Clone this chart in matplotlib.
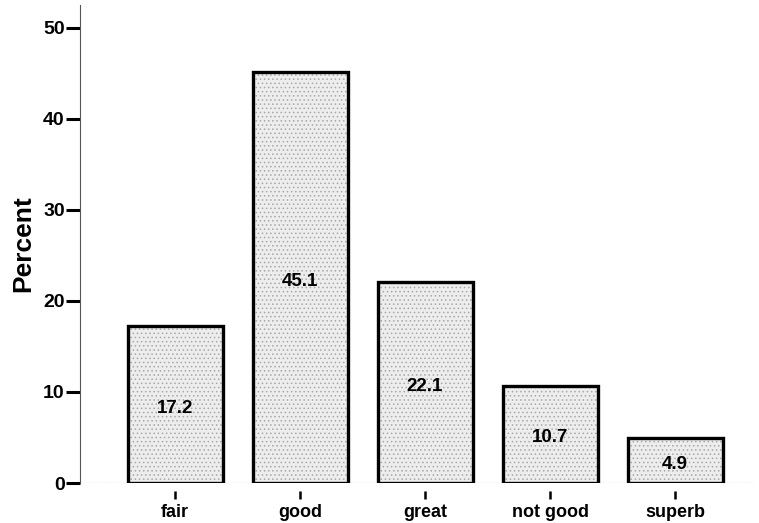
import matplotlib
matplotlib.use("Agg")
import matplotlib.pyplot as plt

categories = ["fair", "good", "great", "not good", "superb"]
percents = [17.2, 45.1, 22.1, 10.7, 4.9]
yticks = [0, 10, 20, 30, 40, 50]

plt.rcParams['font.family'] = ['Liberation Sans', 'DejaVu Sans']
plt.rcParams['hatch.color'] = '#9a9a9a'
plt.rcParams['hatch.linewidth'] = 0.6

fig = plt.figure(figsize=(7.59, 5.23), dpi=100)
ax = fig.add_axes([80/759, 1-483/523, (755-80)/759, (483-5)/523])

x = list(range(len(categories)))
ax.bar(x, percents, width=0.76, color='#ededed', edgecolor='#a8a8a8',
       hatch='....', linewidth=0, zorder=2)
ax.bar(x, percents, width=0.76, facecolor='none', edgecolor='black',
       linewidth=2.4, zorder=3)

for xi, v in zip(x, percents):
    ax.text(xi, v/2 - 0.4, f"{v}", ha='center', va='center', fontsize=13.5,
            fontweight='bold', zorder=4)

for s in ['top', 'right']:
    ax.spines[s].set_visible(False)
ax.spines['bottom'].set_position(('outward', 6))
ax.spines['bottom'].set_visible(False)
ax.spines['left'].set_linestyle((0, (1, 1)))
ax.spines['left'].set_color('#555555')
ax.spines['left'].set_linewidth(0.8)
ax.axhline(0, color='#444444', linestyle=(0, (1.5, 1.5)), linewidth=0.8, zorder=1)

ax.set_xlim(-0.76, 4.64)
ax.set_ylim(0, 52.5)
ax.set_yticks(yticks)
ax.set_yticklabels([str(t) for t in yticks], fontsize=14, fontweight='bold')
ax.set_xticks(x)
ax.set_xticklabels(categories, fontsize=13, fontweight='bold')

ax.tick_params(axis='y', direction='out', length=10, width=2.2, pad=1)
ax.tick_params(axis='x', direction='out', length=6, width=1.8, pad=3)

ax.set_ylabel("Percent", fontsize=19, fontweight='bold', labelpad=6)

fig.savefig("out.png", dpi=100)
